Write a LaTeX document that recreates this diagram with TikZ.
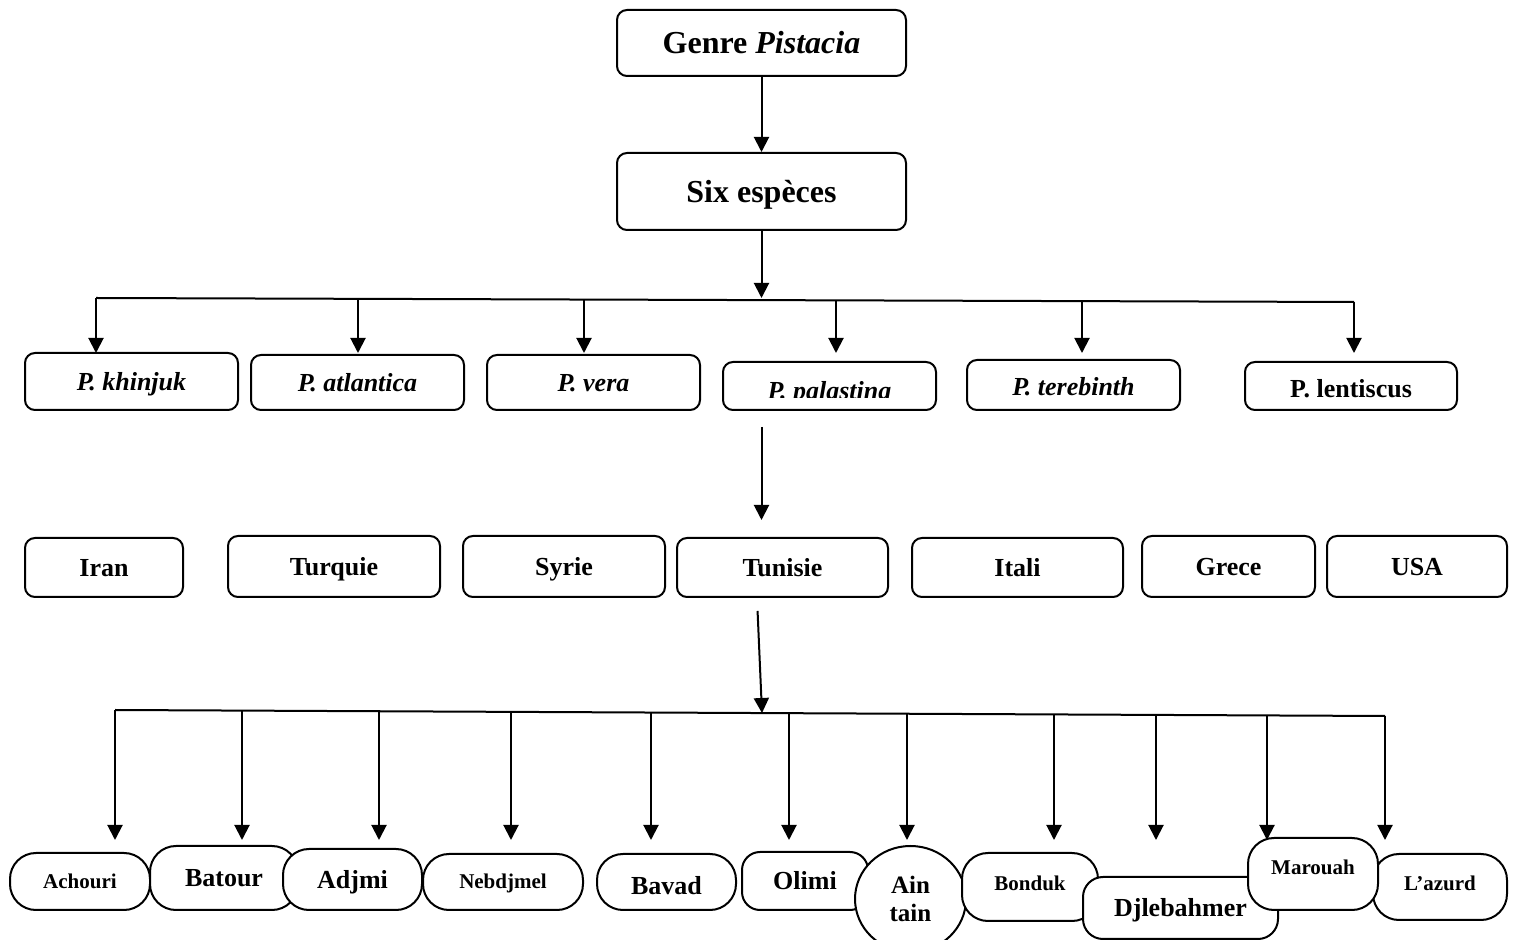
\documentclass[tikz,border=0pt]{standalone}
\usepackage{fontspec}
\setmainfont{Liberation Serif}
\usetikzlibrary{arrows.meta,shapes.geometric}
\begin{document}
\begin{tikzpicture}[x=0.5pt,y=-0.5pt,
    base/.style={draw, line width=1pt, fill=white, inner sep=0pt,
      font=\bfseries\fontsize{13}{15}\selectfont, text height=8.6pt, text depth=0pt},
    box/.style={base, rounded corners=5pt},
    pill/.style={base, rounded corners=13pt},
    big/.style={font=\bfseries\fontsize{16}{18}\selectfont, text height=10.6pt},
    small/.style={font=\bfseries\fontsize{10.5}{12}\selectfont, text height=7pt},
    wh/.style 2 args={minimum width=#1, minimum height=#2},
    arr/.style={-{Triangle[length=7.5pt,width=7.5pt]}, line width=1pt}]
  \useasboundingbox (0,0) rectangle (1517,940);
  % genre and species
  \node[box, big, wh={144.5pt}{33pt}] (genre) at (761.5,43) {Genre \textit{Pistacia}};
  \node[box, big, wh={144.5pt}{38.5pt}] (six) at (761.5,191.5) {Six espèces};
  \node[box, wh={106.5pt}{28.5pt}] (khinjuk) at (131.5,381.5) {\textit{P. khinjuk}};
  \node[box, wh={106.5pt}{27.5pt}] (atlantica) at (357.5,382.5) {\textit{P. atlantica}};
  \node[box, wh={106.5pt}{27.5pt}] (vera) at (593.5,382.5) {\textit{P. vera}};
  \node[box, wh={106.5pt}{24pt}] (palastina) at (829.5,386) {};
  \node[box, wh={106.5pt}{25pt}, text height=10.6pt] (terebinth) at (1073.5,385) {\textit{P. terebinth}};
  \node[box, wh={106pt}{24pt}, text height=11.6pt] (lentiscus) at (1351,386) {P. lentiscus};
  \begin{scope}
    \clip (723,362) rectangle (936,398);
    \node[box, draw=none, fill=none, anchor=base] (palastinatext) at (829.5,400) {\textit{P. palastina}};
  \end{scope}
  % countries
  \node[box, wh={79pt}{29.5pt}] (iran) at (104,567.5) {Iran};
  \node[box, wh={106pt}{30.5pt}] (turquie) at (334,566.5) {Turquie};
  \node[box, wh={101pt}{30.5pt}] (syrie) at (564,566.5) {Syrie};
  \node[box, wh={105.5pt}{29.5pt}] (tunisie) at (782.5,567.5) {Tunisie};
  \node[box, wh={105.5pt}{29.5pt}] (itali) at (1017.5,567.5) {Itali};
  \node[box, wh={86.5pt}{30.5pt}] (grece) at (1228.5,566.5) {Grece};
  \node[box, wh={90pt}{30.5pt}] (usa) at (1417,566.5) {USA};
  % cultivars
  \node[pill, small, wh={70pt}{28.5pt}] (achouri) at (80,881.5) {Achouri};
  \node[pill, wh={74pt}{32pt}] (batour) at (224,878) {Batour};
  \node[pill, wh={69.5pt}{30.5pt}] (adjmi) at (352.5,879.5) {Adjmi};
  \node[pill, small, wh={80pt}{28pt}] (nebdjmel) at (503,882) {Nebdjmel};
  \node[pill, wh={69.5pt}{28pt}, text height=12.6pt] (bavad) at (666.5,882) {Bavad};
  \node[base, rounded corners=9pt, wh={63pt}{29pt}] (olimi) at (805,881) {Olimi};
  \node[draw, line width=1pt, fill=white, inner sep=0pt, ellipse, wh={55.5pt}{53pt}, align=center,
    font=\bfseries\fontsize{12.5}{14}\selectfont] (aintain) at (910.5,899) {Ain\\tain};
  \node[pill, small, wh={68pt}{34pt}, text depth=3pt] (bonduk) at (1030,887) {Bonduk};
  \node[base, rounded corners=10pt, wh={97.5pt}{31pt}] (djlebahmer) at (1180.5,908) {Djlebahmer};
  \node[pill, small, wh={67pt}{33pt}, text depth=3pt] (lazurd) at (1440,887) {L’azurd};
  \node[pill, small, wh={65pt}{36pt}, text depth=6pt] (marouah) at (1313,874) {Marouah};
  % connectors
  \coordinate (bus1) at (761.5,298);
  \coordinate (tipA) at (0,353);
  \coordinate (bus2) at (762,713);
  \coordinate (tipB) at (0,840);
  \draw[arr] (genre) -- (six);
  \draw[arr] (six) -- (bus1);
  \foreach \x/\y [count=\i] in {96/298,358/298.8,584/299.6,836/300.4,1082/301.1,1354/302}
    {
      \coordinate (s\i) at (\x,\y);
      \draw[arr] (s\i) -- (s\i |- tipA);
    }
  \draw[line width=1pt] (s1) -- (s6);
  \draw[arr, shorten <=8pt, shorten >=8.5pt] (palastina.south -| six.south) -- (tunisie.north -| six.south);
  \path (tunisie.south -| six.south) ++(-4.5,0) coordinate (t0);
  \draw[arr, shorten <=6.5pt] (t0) -- (bus2);
  \foreach \x/\y [count=\i] in {115/710,242/710.6,379/711.2,511/711.9,651/712.5,789/713.2,
      907/713.7,1054/714.4,1156/714.9,1267/715.4,1385/716}
    {
      \coordinate (c\i) at (\x,\y);
      \draw[arr] (c\i) -- (c\i |- tipB);
    }
  \draw[line width=1pt] (c1) -- (c11);
\end{tikzpicture}
\end{document}
